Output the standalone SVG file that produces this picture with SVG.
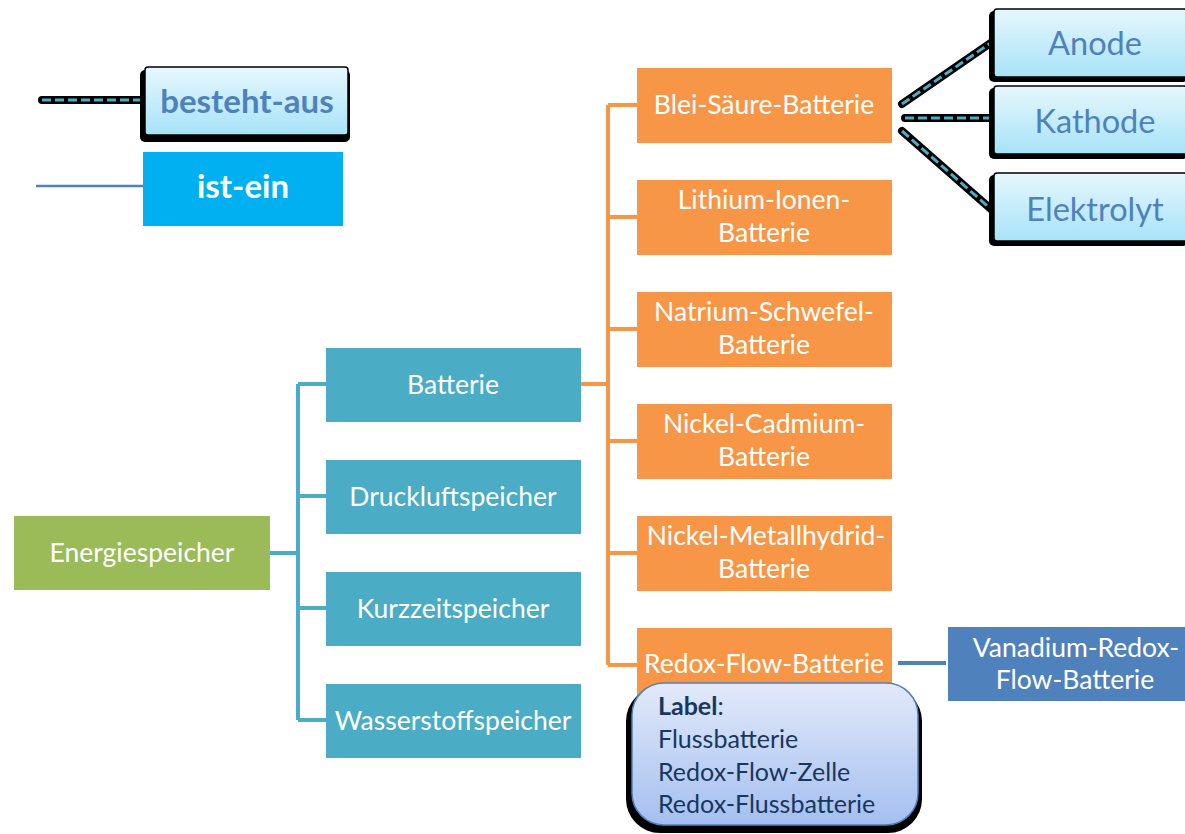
<svg xmlns="http://www.w3.org/2000/svg" width="1185" height="834" viewBox="0 0 1185 834">
<defs>
<linearGradient id="gCyan" x1="0" y1="0" x2="0" y2="1"><stop offset="0" stop-color="#e6f7fd"/><stop offset="1" stop-color="#a6e3f8"/></linearGradient>
<linearGradient id="gBlue" x1="0" y1="0" x2="0" y2="1"><stop offset="0" stop-color="#e2eafa"/><stop offset="1" stop-color="#a4bff0"/></linearGradient>
<style>
text{font-family:Lato,"Liberation Sans",sans-serif;text-anchor:middle}
.w{fill:#fff;font-size:26.5px}
.teal{fill:#4bacc6}
.org{fill:#f79646}
.lb{fill:#4f81bd;font-size:32.5px}
.shadow{fill:#000}
.cy{fill:url(#gCyan);stroke:#000;stroke-width:1.5}
.ba-bg{stroke:#000;stroke-width:8;stroke-linecap:round;fill:none}
.ba-fg{stroke:#4bacc6;stroke-width:3;stroke-dasharray:9 4;fill:none}
.call{fill:#17375e;font-size:25px;text-anchor:start}
</style>
</defs>
<g id="connectors">
<path d="M270 553 H298 M298 384 V720 M298 384 H326 M298 496 H326 M298 608 H326 M298 720 H326" stroke="#4bacc6" stroke-width="4" fill="none"/>
<path d="M581 384 H608 M608 105 V665 M608 105 H637 M608 217 H637 M608 329 H637 M608 441 H637 M608 553 H637 M608 665 H637" stroke="#f79646" stroke-width="4" fill="none"/>
<path d="M898 663 H946" stroke="#4f81bd" stroke-width="4" fill="none"/>
<path d="M36 186 H143" stroke="#4f81bd" stroke-width="2.5" fill="none"/>
<g>
<path class="ba-bg" d="M42 100 H143"/><path class="ba-fg" d="M42 100 H143"/>
<path class="ba-bg" d="M902 104 L992 42"/><path class="ba-fg" d="M902 104 L992 42"/>
<path class="ba-bg" d="M905 118 H992"/><path class="ba-fg" d="M905 118 H992"/>
<path class="ba-bg" d="M902 131 L992 210"/><path class="ba-fg" d="M902 131 L992 210"/>
</g>
</g>
<g id="legend-besteht-aus">
<rect class="shadow" x="140" y="70" width="210" height="72" rx="5"/>
<rect class="cy" x="145" y="67" width="203" height="68" rx="3"/>
<text x="247" y="113" style="font-weight:bold;fill:#4f81bd;font-size:33px">besteht-aus</text>
</g>
<g id="legend-ist-ein">
<rect x="143" y="152" width="200" height="74" fill="#00b0f0"/>
<text x="243" y="198" style="font-weight:bold;fill:#fff;font-size:33px">ist-ein</text>
</g>
<g id="n-energiespeicher"><rect x="14" y="516" width="256" height="74" fill="#9bbb59"/><text class="w" x="142" y="562">Energiespeicher</text></g>
<g id="n-batterie"><rect class="teal" x="326" y="348" width="255" height="74"/><text class="w" x="453" y="394">Batterie</text></g>
<g id="n-druckluft"><rect class="teal" x="326" y="460" width="255" height="74"/><text class="w" x="453" y="506">Druckluftspeicher</text></g>
<g id="n-kurzzeit"><rect class="teal" x="326" y="572" width="255" height="74"/><text class="w" x="453" y="618">Kurzzeitspeicher</text></g>
<g id="n-wasserstoff"><rect class="teal" x="326" y="684" width="255" height="74"/><text class="w" x="453" y="730">Wasserstoffspeicher</text></g>
<g id="n-bleisaeure"><rect class="org" x="637" y="68" width="255" height="75"/><text class="w" x="764" y="114">Blei-Säure-Batterie</text></g>
<g id="n-lithium"><rect class="org" x="637" y="180" width="255" height="75"/><text class="w" x="764" y="209">Lithium-Ionen-</text><text class="w" x="764" y="242">Batterie</text></g>
<g id="n-natrium"><rect class="org" x="637" y="292" width="255" height="75"/><text class="w" x="764" y="321">Natrium-Schwefel-</text><text class="w" x="764" y="354">Batterie</text></g>
<g id="n-nickelcadmium"><rect class="org" x="637" y="404" width="255" height="75"/><text class="w" x="764" y="433">Nickel-Cadmium-</text><text class="w" x="764" y="466">Batterie</text></g>
<g id="n-nickelmetall"><rect class="org" x="637" y="516" width="255" height="75"/><text class="w" x="766" y="545">Nickel-Metallhydrid-</text><text class="w" x="764" y="578">Batterie</text></g>
<g id="n-redoxflow"><rect class="org" x="637" y="628" width="255" height="75"/><text class="w" x="764" y="673">Redox-Flow-Batterie</text></g>
<g id="n-vanadium"><rect x="948" y="627" width="237" height="74" fill="#4f81bd"/><text class="w" x="1076" y="657">Vanadium-Redox-</text><text class="w" x="1075" y="689">Flow-Batterie</text></g>
<g id="n-label">
<rect class="shadow" x="626" y="687" width="296" height="146" rx="34"/>
<rect x="632" y="683" width="286" height="142" rx="32" fill="url(#gBlue)" stroke="#4f81bd" stroke-width="1.5"/>
<text class="call" x="658" y="715"><tspan font-weight="bold">Label</tspan>:</text>
<text class="call" x="658" y="748">Flussbatterie</text>
<text class="call" x="658" y="781">Redox-Flow-Zelle</text>
<text class="call" x="658" y="813">Redox-Flussbatterie</text>
</g>
<g id="n-anode"><rect class="shadow" x="989" y="11" width="199" height="71" rx="5"/><rect class="cy" x="994" y="9" width="193" height="68" rx="3"/><text class="lb" x="1095" y="55">Anode</text></g>
<g id="n-kathode"><rect class="shadow" x="989" y="88" width="199" height="71" rx="5"/><rect class="cy" x="994" y="86" width="193" height="68" rx="3"/><text class="lb" x="1095" y="133">Kathode</text></g>
<g id="n-elektrolyt"><rect class="shadow" x="989" y="175" width="199" height="71" rx="5"/><rect class="cy" x="994" y="173" width="193" height="68" rx="3"/><text class="lb" x="1095" y="221">Elektrolyt</text></g>
</svg>
